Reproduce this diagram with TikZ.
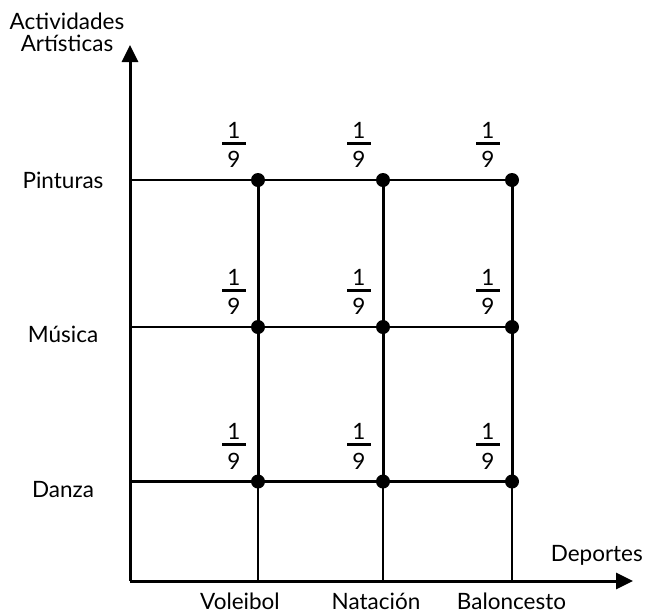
\documentclass[tikz,border=0pt]{standalone}
\usepackage{fontspec}
\setmainfont{Lato}
\usetikzlibrary{arrows.meta}
\newcommand\onenine{\vbox{\offinterlineskip\halign{\hfil##\hfil\cr 1\cr\noalign{\kern3.5pt}\vrule width 24pt height 2.6pt\cr\noalign{\kern7pt}9\cr}}}
\tikzset{
  axisline/.style={line width=3pt, -{Triangle[length=17pt,width=16pt]}},
  gridline/.style={line width=2.6pt},
  upperline/.style={line width=3pt},
  lowerline/.style={line width=2.2pt},
  dot/.style={circle, fill=black, minimum size=14pt, inner sep=0pt},
  lbl/.style={font=\fontsize{22.5}{24}\selectfont, inner sep=0pt, anchor=base},
  fr/.style={font=\fontsize{22.5}{24}\selectfont, inner sep=0pt, anchor=south}
}
\begin{document}
\begin{tikzpicture}[x=1pt,y=-1pt]
\useasboundingbox (0,0) rectangle (646,614);
% axes
\coordinate (O) at (130,581);
\coordinate (ytip) at (130,45);
\coordinate (xtip) at (633,581);
\draw[axisline] (O) -- (ytip);
\draw[axisline] (O) -- (xtip);
% grid points
\foreach \c/\x in {v/258,n/383,b/512}{
  \foreach \r/\y in {p/180,m/327,d/481.5}{
    \coordinate (\c\r) at (\x,\y);
  }
  \coordinate (\c0) at (\x,581);
}
\foreach \r/\y in {p/180,m/327,d/481.5}{
  \coordinate (y\r) at (130,\y);
  \draw[gridline] (y\r) -- (b\r);
}
\foreach \c in {v,n,b}{
  \draw[upperline] (\c p) -- (\c d);
  \draw[lowerline] (\c d) -- (\c0);
}
\foreach \c in {v,n,b}{
  \foreach \r in {p,m,d}{
    \node[dot] (dot\c\r) at (\c\r) {};
    \node[fr] (f\c\r) at ([xshift=-24pt,yshift=12pt]\c\r) {\onenine};
  }
}
% labels
\node[font=\fontsize{22.5}{22}\selectfont, inner sep=0pt, anchor=north, align=center] (ylab) at (67,13) {Actividades\\[0pt]Artísticas};
\node[lbl] (lp) at (63,188) {Pinturas};
\node[lbl] (lm) at (63,342) {Música};
\node[lbl] (ld) at (63,497) {Danza};
\node[lbl, anchor=base east] (xlab) at (643,561) {Deportes};
\node[lbl] (lv) at (240,609) {Voleibol};
\node[lbl] (ln) at (376,609) {Natación};
\node[lbl] (lb) at (511.5,609) {Baloncesto};
\end{tikzpicture}
\end{document}
